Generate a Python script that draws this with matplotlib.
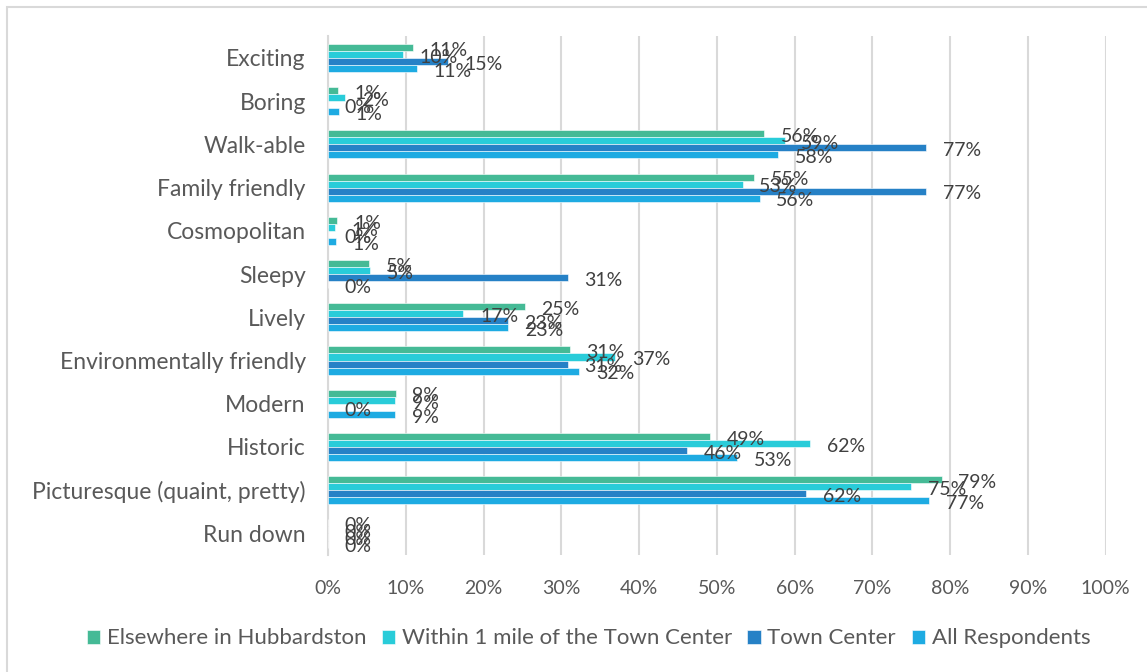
import numpy as np
import matplotlib.pyplot as plt
from matplotlib.patches import FancyBboxPatch
from matplotlib.ticker import PercentFormatter

plt.rcParams['font.family'] = ['Lato', 'DejaVu Sans']

categories = ["Exciting", "Boring", "Walk-able", "Family friendly", "Cosmopolitan",
              "Sleepy", "Lively", "Environmentally friendly", "Modern", "Historic",
              "Picturesque (quaint, pretty)", "Run down"]
series = ["Elsewhere in Hubbardston", "Within 1 mile of the Town Center",
          "Town Center", "All Respondents"]
elsewhere = [10.9, 1.3, 56.1, 54.8, 1.2, 5.3, 25.3, 31.1, 8.7, 49.1, 78.9, 0.0]
within_1mi = [9.6, 2.2, 58.7, 53.3, 0.9, 5.4, 17.4, 36.9, 8.6, 62.0, 75.0, 0.0]
town_center = [15.4, 0.0, 76.9, 76.9, 0.0, 30.8, 23.1, 30.8, 0.0, 46.2, 61.5, 0.0]
all_resp = [11.4, 1.4, 57.9, 55.5, 1.0, 0.0, 23.2, 32.3, 8.6, 52.6, 77.3, 0.0]
colors = ["#45BA96", "#29CCD9", "#2681C6", "#1EABE2"]

values = [elsewhere, within_1mi, town_center, all_resp]

fig = plt.figure(figsize=(11.47, 6.72), dpi=100)
ax = fig.add_axes([0.286, 0.174, 0.678, 0.772])

# outer chart border
fig.patches.append(FancyBboxPatch((7/1147, -0.05), 1.2, 1 - 7/672 + 0.05,
                                  boxstyle="square,pad=0", transform=fig.transFigure,
                                  fill=False, edgecolor="#D9D9D9", linewidth=1.5))

y = np.arange(len(categories))
h = 0.163
for k, (vals, name, c) in enumerate(zip(values, series, colors)):
    v = np.array(vals) / 100
    pos = y + (k - 1.5) * h
    ax.barh(pos, v, height=h, color=c, edgecolor="white", linewidth=0.4, label=name, zorder=3)
    for yy, vv in zip(pos, v):
        ax.annotate(f"{vv*100:.0f}%", xy=(vv, yy), xytext=(12, -2),
                    textcoords="offset points", ha="left", va="center",
                    fontsize=14, color="#404040", zorder=4)

ax.set_xlim(0, 1)
ax.set_ylim(len(categories) - 0.5, -0.5)
ax.set_yticks(y)
ax.set_yticklabels(categories)
ax.set_xticks(np.arange(0, 1.01, 0.1))
ax.xaxis.set_major_formatter(PercentFormatter(1.0, decimals=0))
ax.tick_params(axis="both", length=0, labelcolor="#595959")
ax.tick_params(axis="y", pad=16, labelsize=16.5)
ax.tick_params(axis="x", pad=18, labelsize=14)
ax.grid(axis="x", color="#D9D9D9", linewidth=1.5, zorder=0)
for s in ["top", "right", "bottom"]:
    ax.spines[s].set_visible(False)
ax.spines["left"].set_color("#D9D9D9")
ax.spines["left"].set_linewidth(1.5)

fig.legend(loc="center", bbox_to_anchor=(0.513, 0.05), ncol=4, frameon=False,
           fontsize=16, labelcolor="#595959", handlelength=0.6, handleheight=0.6,
           handletextpad=0.3, columnspacing=0.7)

fig.savefig("out.png", dpi=100)
